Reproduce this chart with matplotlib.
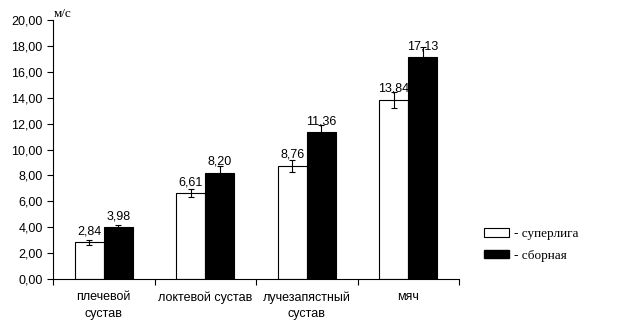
import numpy as np
import matplotlib
matplotlib.use('Agg')
import matplotlib.pyplot as plt
from matplotlib.patches import Patch

plt.rcParams['font.family'] = ['Liberation Sans', 'DejaVu Sans']

# данные
categories = ['плечевой\nсустав', 'локтевой сустав', 'лучезапястный\nсустав', 'мяч']
superliga = [2.84, 6.61, 8.76, 13.84]
sbornaya = [3.98, 8.20, 11.36, 17.13]
superliga_err = [0.2, 0.31, 0.46, 0.62]
sbornaya_err = [0.2, 0.5, 0.5, 0.75]
series_names = ['- суперлига', '- сборная']


def fmt(v):
    return f'{v:.2f}'.replace('.', ',')


fig = plt.figure(figsize=(6.42, 3.30), dpi=100)
ax = fig.add_axes([53 / 642, 1 - 279 / 330, 406 / 642, 259 / 330])

x = np.arange(len(categories))
w = 0.285
ax.bar(x - w / 2, superliga, w, color='white', edgecolor='black', linewidth=0.8,
       yerr=superliga_err, error_kw=dict(ecolor='black', elinewidth=0.8, capsize=2.5, capthick=0.8))
ax.bar(x + w / 2, sbornaya, w, color='black', edgecolor='black', linewidth=0.8,
       yerr=sbornaya_err, error_kw=dict(ecolor='black', elinewidth=0.8, capsize=2.5, capthick=0.8))

for xi, v in zip(x - w / 2, superliga):
    ax.annotate(fmt(v), (xi, v), xytext=(0, 3.5), textcoords='offset points',
                ha='center', va='bottom', fontsize=9)
for xi, v in zip(x + w / 2, sbornaya):
    ax.annotate(fmt(v), (xi, v), xytext=(0, 3.5), textcoords='offset points',
                ha='center', va='bottom', fontsize=9)

ax.set_xlim(-0.5, len(categories) - 0.5)
ax.set_ylim(0, 20)
ax.set_yticks(np.arange(0, 20.1, 2))
ax.set_yticklabels([fmt(t) for t in np.arange(0, 20.1, 2)], fontsize=9)
ax.set_xticks(np.arange(-0.5, len(categories), 1))
ax.set_xticklabels([])
ax.set_xticks(x, minor=True)
ax.set_xticklabels(categories, minor=True, fontsize=9, linespacing=1.5)
ax.tick_params(axis='x', which='minor', length=0, pad=9)
ax.tick_params(axis='both', which='major', length=4, width=0.8, direction='out')
ax.spines['top'].set_visible(False)
ax.spines['right'].set_visible(False)
ax.spines['left'].set_linewidth(0.8)
ax.spines['bottom'].set_linewidth(0.8)

fig.text(54 / 642, 1 - 14 / 330, 'м/с', fontsize=9.5, family='Liberation Serif', va='center')

handles = [Patch(facecolor='white', edgecolor='black', linewidth=0.8),
           Patch(facecolor='black', edgecolor='black')]
fig.legend(handles, series_names, loc='center left', bbox_to_anchor=(472 / 642, 1 - 245 / 330),
           frameon=False, prop={'family': 'Liberation Serif', 'size': 9.5},
           handlelength=1.9, handleheight=0.6, handletextpad=0.4, labelspacing=0.75)

fig.savefig('out.png', dpi=100)
